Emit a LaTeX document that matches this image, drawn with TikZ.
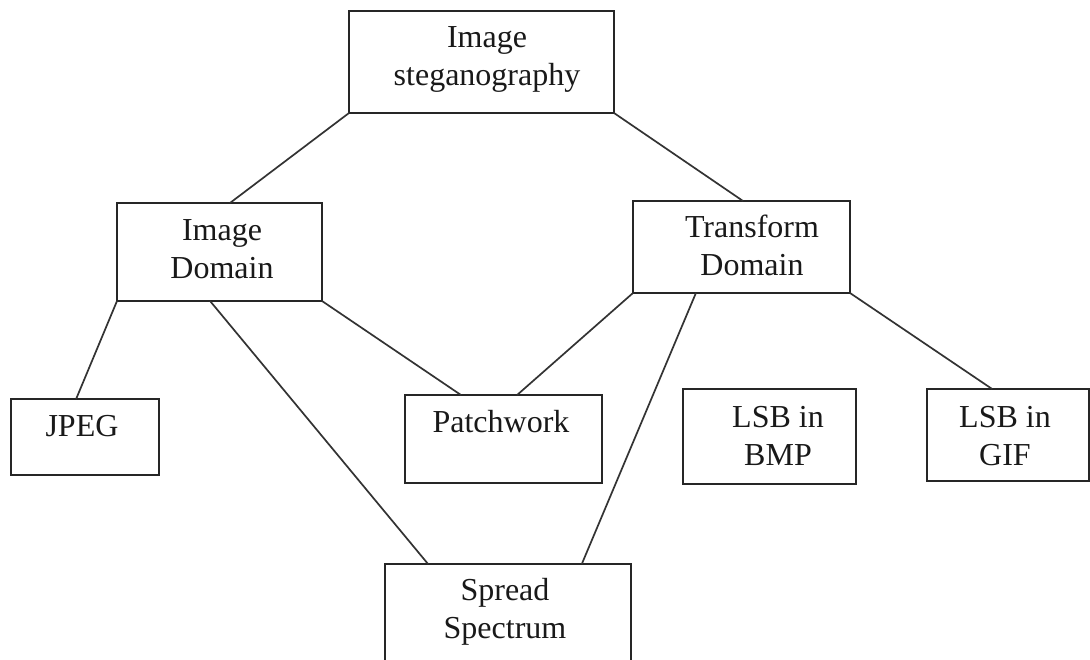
\documentclass[tikz,border=0pt]{standalone}
\usepackage{fontspec}
\setmainfont{Liberation Serif}
\usetikzlibrary{calc}

\tikzset{
  box/.style={draw=black!85, line width=2pt, rectangle, inner sep=0pt, outer sep=0pt},
  lbl/.style={font=\fontsize{32}{38}\selectfont, text=black!90, align=center, inner sep=0pt, anchor=base},
  link/.style={draw=black!80, line width=1.7pt},
}

\begin{document}
\begin{tikzpicture}[x=1pt, y=-1pt]
  \useasboundingbox (0,0) rectangle (1090,660);
  \clip (0,0) rectangle (1090,660);
  \fill[white] (0,0) rectangle (1090,660);

  % boxes
  \node[box, minimum width=265pt, minimum height=102pt] (steg)   at (481.5,62)  {};
  \node[box, minimum width=205pt, minimum height=98pt]  (imgdom) at (219.5,252) {};
  \node[box, minimum width=217pt, minimum height=92pt]  (trdom)  at (741.5,247) {};
  \node[box, minimum width=148pt, minimum height=76pt]  (jpeg)   at (85,437)    {};
  \node[box, minimum width=197pt, minimum height=88pt]  (patch)  at (503.5,439) {};
  \node[box, minimum width=173pt, minimum height=95pt]  (bmp)    at (769.5,436.5) {};
  \node[box, minimum width=162pt, minimum height=92pt]  (gif)    at (1007.5,435) {};
  \node[box, minimum width=246pt, minimum height=120pt] (spread) at (508,624)   {};

  % labels (anchored on the baseline of the last line)
  \node[lbl] (stegtxt)   at (487,86)  {Image\\steganography};
  \node[lbl] (imgdomtxt) at (222,279) {Image\\Domain};
  \node[lbl] (trdomtxt)  at (752,276) {Transform\\Domain};
  \node[lbl] (jpegtxt)   at (82,436)  {JPEG};
  \node[lbl] (patchtxt)  at (501,432) {Patchwork};
  \node[lbl] (bmptxt)    at (778,465) {LSB in\\BMP};
  \node[lbl] (giftxt)    at (1005,465) {LSB in\\GIF};
  \node[lbl] (spreadtxt) at (505,638) {Spread\\Spectrum};

  % connectors
  \draw[link] (steg.south west) -- ($(imgdom.north west)!0.551!(imgdom.north east)$);
  \draw[link] (steg.south east) -- ($(trdom.north west)!0.507!(trdom.north east)$);
  \draw[link] (imgdom.south west) -- ($(jpeg.north west)!0.44!(jpeg.north east)$);
  \draw[link] (imgdom.south east) -- ($(patch.north west)!0.284!(patch.north east)$);
  \draw[link] ($(imgdom.south west)!0.454!(imgdom.south east)$) -- ($(spread.north west)!0.175!(spread.north east)$);
  \draw[link] (trdom.south west) -- ($(patch.north west)!0.569!(patch.north east)$);
  \draw[link] ($(trdom.south west)!0.29!(trdom.south east)$) -- ($(spread.north west)!0.80!(spread.north east)$);
  \draw[link] (trdom.south east) -- ($(gif.north west)!0.405!(gif.north east)$);
\end{tikzpicture}
\end{document}
